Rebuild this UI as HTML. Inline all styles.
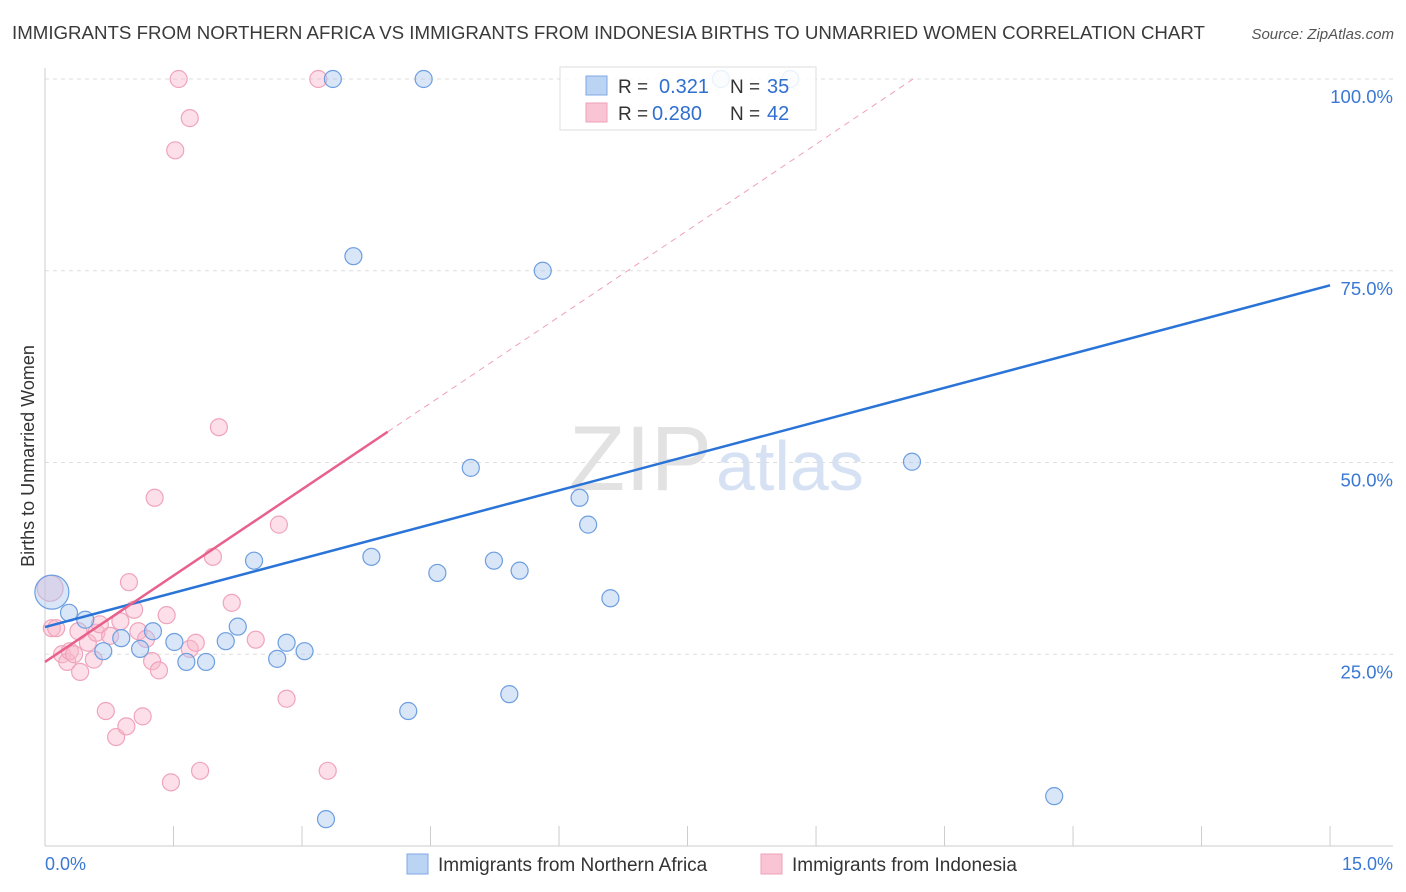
<!DOCTYPE html>
<html><head><meta charset="utf-8"><style>
body{margin:0;background:#fff;font-family:"Liberation Sans",sans-serif;}
#wrap{position:relative;width:1406px;height:892px;overflow:hidden;}
svg text{font-family:"Liberation Sans",sans-serif;}
</style></head><body>
<div id="wrap">
<svg id="chart" width="1406" height="892">
<text x="12" y="39" font-size="18.7" fill="#3a3a3a">IMMIGRANTS FROM NORTHERN AFRICA VS IMMIGRANTS FROM INDONESIA BIRTHS TO UNMARRIED WOMEN CORRELATION CHART</text>
<text x="1394" y="39" font-size="15" font-style="italic" fill="#555" text-anchor="end">Source: ZipAtlas.com</text>
<text transform="translate(34,456) rotate(-90)" font-size="18" fill="#333" text-anchor="middle">Births to Unmarried Women</text>
<g id="grid"></g>
<text x="712" y="490" font-size="92" fill="#e2e2e2" text-anchor="end" font-family="Liberation Serif">ZIP</text>
<text x="716" y="490" font-size="70" fill="#d6e2f4">atlas</text>
<g id="pts"></g>
<g id="lines"></g>
<g>
<rect x="560" y="67" width="256" height="63" fill="rgba(255,255,255,0.85)" stroke="#ddd"/>
<rect x="586" y="76" width="21" height="19" fill="#bcd4f4" stroke="#7ea8e4"/>
<rect x="586" y="103" width="21" height="19" fill="#f9c4d4" stroke="#f0a0b8"/>
<text x="618" y="93" font-size="19" fill="#333">R = </text><text x="659" y="93" font-size="20" fill="#2f6fd0">0.321</text>
<text x="730" y="93" font-size="19" fill="#333">N = </text><text x="767" y="93" font-size="20" fill="#2f6fd0">35</text>
<text x="618" y="120" font-size="19" fill="#333">R = </text><text x="652" y="120" font-size="20" fill="#2f6fd0">0.280</text>
<text x="730" y="120" font-size="19" fill="#333">N = </text><text x="767" y="120" font-size="20" fill="#2f6fd0">42</text>
</g>
<g>
<rect x="407" y="854" width="21" height="20" fill="#bcd4f4" stroke="#7ea8e4"/>
<text x="438" y="871" font-size="19" fill="#333">Immigrants from Northern Africa</text>
<rect x="761" y="854" width="21" height="20" fill="#f9c4d4" stroke="#f0a0b8"/>
<text x="792" y="871" font-size="19" fill="#333">Immigrants from Indonesia</text>
</g>
<text x="45" y="870" font-size="18" fill="#3a78d4">0.0%</text>
<text x="1393" y="870" font-size="18" fill="#3a78d4" text-anchor="end">15.0%</text>
</svg></div>
<script>
const blueX=[0.08,0.28,0.47,0.68,0.89,1.11,1.26,1.51,1.65,1.88,2.11,2.25,2.44,2.71,2.82,3.03,3.28,3.36,3.60,3.81,4.24,4.42,4.58,4.97,5.24,5.42,5.54,5.81,6.24,6.34,6.60,7.89,8.70,10.12,11.78];
const blueY=[33.1,30.4,29.5,25.4,27.1,25.7,28.0,26.6,24.0,24.0,26.7,28.6,37.2,24.4,26.5,25.4,3.5,100,76.9,37.7,17.6,100,35.6,49.3,37.2,19.8,35.9,75.0,45.4,41.9,32.3,100,100,50.1,6.5];
const pinkX=[0.06,0.08,0.13,0.20,0.26,0.29,0.39,0.41,0.50,0.57,0.60,0.64,0.34,0.71,0.76,0.83,0.88,0.95,0.98,1.04,1.09,1.14,1.18,1.25,1.28,1.33,1.42,1.47,1.52,1.56,1.69,1.69,1.76,1.81,1.96,2.03,2.18,2.46,2.73,2.82,3.19,3.30];
const pinkY=[33.6,28.4,28.4,25.0,24.0,25.4,28.0,22.7,26.5,24.3,27.8,28.9,25.0,17.6,27.4,14.2,29.3,15.6,34.4,30.8,28.0,16.9,27.0,24.1,45.4,22.9,30.1,8.3,90.7,100,94.9,25.7,26.5,9.8,37.7,54.6,31.7,26.9,41.9,19.2,100,9.8];
const trendIntercept=[28.55,24.0];
const trendSlope=[2.97,7.5];
const yTicks=[25,50,75,100];
const xTicks=[0,1.5,3,4.5,6,7.5,9,10.5,12,13.5,15];
const NS='http://www.w3.org/2000/svg';
const sx=v=>45+v*85.67, sy=v=>846-v*7.67;
function mk(t,a,p){const e=document.createElementNS(NS,t);for(const k in a)e.setAttribute(k,a[k]);p.appendChild(e);return e;}
const grid=document.getElementById('grid');
yTicks.forEach(t=>{
 const l=mk('line',{x1:45,x2:1393,y1:sy(t),y2:sy(t),stroke:'#ddd','stroke-dasharray':'4,4'},grid);
 
 
 const tx=mk('text',{x:1393,y:sy(t)+24,'font-size':18.5,fill:'#3a78d4','text-anchor':'end'},grid);
 tx.textContent=t.toFixed(1)+'%';
 
 
});
mk('line',{x1:45,x2:45,y1:68,y2:846,stroke:'#ccc'},grid);
mk('line',{x1:45,x2:1393,y1:846,y2:846,stroke:'#ccc'},grid);
xTicks.forEach(t=>{
 const l=mk('line',{x1:sx(t),x2:sx(t),y1:826,y2:846,stroke:'#ccc'},grid);
 
 
});
const pts=document.getElementById('pts');
function dots(X,Y,fill,stroke,name){X.forEach((x,i)=>{
 const big=i===0;
 const c=mk('circle',{cx:sx(x),cy:sy(Y[i]),r:big?(name==='blue-point'?17:13):8.5,fill:fill,stroke:stroke,'stroke-width':1.2},pts);
 
 
});}
dots(pinkX,pinkY,'rgba(248,184,204,0.45)','#f0a4bc','pink-point');
dots(blueX,blueY,'rgba(170,200,240,0.45)','#6c9ee0','blue-point');
const lines=document.getElementById('lines');
const bl=mk('line',{x1:sx(0),y1:sy(trendIntercept[0]),x2:sx(15),y2:sy(trendIntercept[0]+15*trendSlope[0]),stroke:'#2a74d8','stroke-width':2.5},lines);


const pe=(100-trendIntercept[1])/trendSlope[1];
const pd=mk('line',{x1:sx(4),y1:sy(trendIntercept[1]+4*trendSlope[1]),x2:sx(pe),y2:sy(100),stroke:'#f0a0b8','stroke-width':1,'stroke-dasharray':'6,5'},lines);


const pl=mk('line',{x1:sx(0),y1:sy(trendIntercept[1]),x2:sx(4),y2:sy(trendIntercept[1]+4*trendSlope[1]),stroke:'#e8608c','stroke-width':2.5},lines);


</script>
</body></html>
